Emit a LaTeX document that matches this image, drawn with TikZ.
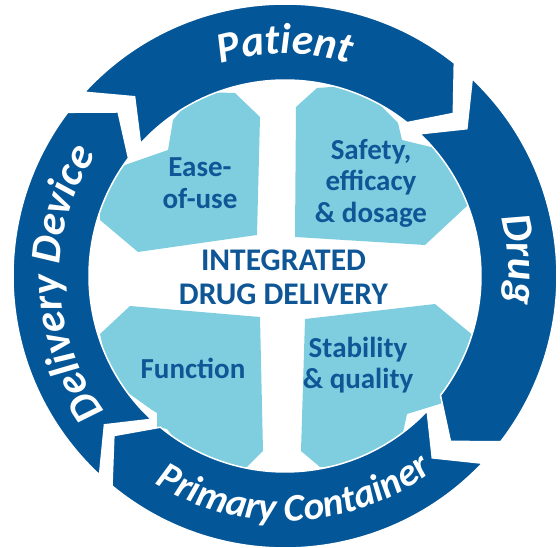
\documentclass[tikz,border=0pt]{standalone}
\usepackage{fontspec}
\setmainfont{Carlito}
\usetikzlibrary{decorations.text}
\definecolor{bandblue}{RGB}{3,86,152}
\definecolor{lightblue}{RGB}{126,206,224}
\definecolor{txtblue}{RGB}{14,86,150}
\newcommand\bandfont{\fontsize{43}{43}\selectfont\bfseries\itshape}
\newcommand\pcfont{\fontsize{39}{39}\selectfont\bfseries\itshape}
\newcommand\bandseg[2]{%
  \path[bandshape] (#1:272pt) arc[start angle=#1, end angle=#2, radius=272pt]
    -- ({#2-7.5}:234pt) -- (#2:196pt)
    arc[start angle=#2, end angle=#1, radius=196pt]
    -- ({#1-7.5}:234pt) -- cycle;}
\begin{document}
\begin{tikzpicture}[x=1pt,y=1pt,
  quad/.style={fill=lightblue},
  bandshape/.style={fill=bandblue, draw=white, line width=1.5pt},
  quadtext/.style={text=txtblue, font=\fontsize{29}{31.5}\selectfont\bfseries, align=center},
  centertext/.style={text=txtblue, font=\fontsize{31.5}{34}\selectfont\bfseries, align=center},
  bandtext/.style={decorate, decoration={text along path, text align=center, text color=white}}]
\useasboundingbox (0,0) rectangle (560,548);
% light quadrants
\fill[quad] (100,328) -- (100,358) -- (125,383) -- (168,398) -- (173,428) -- (197,456) -- (235,455) -- (260,431) -- (257,313) -- (138,296) -- cycle;
\fill[quad] (296,441) -- (317,460) -- (360,463) -- (398,425) -- (402,408) -- (435,400) -- (470,388) -- (468,343) -- (425,303) -- (295,311) -- cycle;
\fill[quad] (305,229) -- (435,244) -- (475,211) -- (490,178) -- (446,151) -- (446,146) -- (407,134) -- (402,111) -- (365,83) -- (320,81) -- (301,97) -- cycle;
\fill[quad] (130,242) -- (260,231) -- (263,97) -- (247,81) -- (200,76) -- (167,119) -- (157,121) -- (157,135) -- (152,138) -- (110,168) -- (100,214) -- cycle;
% ring of arrows
\begin{scope}[shift={(285,272)}]
\bandseg{137.5}{51.5}
\bandseg{46.5}{-37.5}
\bandseg{-43.5}{-129.5}
\bandseg{-133}{-217}
\path[bandtext, decoration={text={|\bandfont|Patient}}] (125:222pt) arc[start angle=125, end angle=55, radius=222pt];
\path[bandtext, decoration={text={|\bandfont|Drug}}] (34:224pt) arc[start angle=34, end angle=-26, radius=224pt];
\path[bandtext, decoration={text={|\pcfont|Primary Container}}] (220:245pt) arc[start angle=220, end angle=325, radius=245pt];
\path[bandtext, decoration={text={|\bandfont|Delivery Device}}] (227:225pt) arc[start angle=227, end angle=137, radius=225pt];
\end{scope}
% texts
\node[quadtext] (ease) at (200,365) {Ease-\\of-use};
\node[quadtext] (safety) at (371,365) {Safety,\\efficacy\\\& dosage};
\node[quadtext] (function) at (193,180) {Function};
\node[quadtext] (stability) at (358,183) {Stability\\\& quality};
\node[centertext] (idd) at (283.5,271) {INTEGRATED\\DRUG DELIVERY};
\end{tikzpicture}
\end{document}
